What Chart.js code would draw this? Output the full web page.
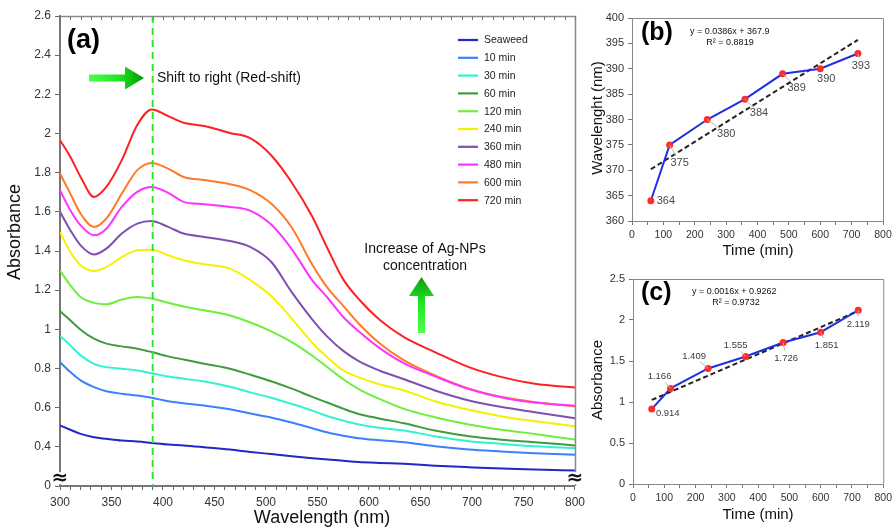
<!DOCTYPE html>
<html><head><meta charset="utf-8">
<script src="https://cdn.jsdelivr.net/npm/chart.js@4/dist/chart.umd.min.js"></script>
<style>
html,body{margin:0;padding:0;background:#fff;overflow:hidden}
#wrap{position:relative;width:896px;height:529px;background:#fff}
canvas{position:absolute}
</style></head><body>
<div id="wrap">
<canvas id="ca" width="590" height="529" style="left:0;top:0;width:590px;height:529px"></canvas>
<canvas id="cb" width="306" height="265" style="left:590px;top:0;width:306px;height:265px"></canvas>
<canvas id="cc" width="306" height="264" style="left:590px;top:265px;width:306px;height:264px"></canvas>
</div>
<script>
// ---------- DATA: panel (a) UV-Vis spectra ----------
const wavelengths = [300,310,320,333,345,360,375,389,405,420,440,465,485,505,525,545,560,575,590,610,634,664,697,729,761,800];
const seaweed = [0.509,0.487,0.466,0.449,0.441,0.432,0.427,0.420,0.412,0.407,0.398,0.386,0.374,0.363,0.352,0.342,0.335,0.329,0.323,0.318,0.313,0.304,0.296,0.289,0.284,0.279];
const min10  = [0.833,0.782,0.739,0.705,0.684,0.671,0.662,0.651,0.633,0.623,0.611,0.592,0.570,0.550,0.524,0.495,0.473,0.457,0.444,0.434,0.424,0.403,0.386,0.376,0.367,0.359];
const min30  = [0.966,0.918,0.867,0.824,0.807,0.799,0.790,0.776,0.759,0.748,0.734,0.707,0.678,0.651,0.619,0.585,0.556,0.534,0.514,0.498,0.483,0.454,0.429,0.415,0.403,0.393];
const min60  = [1.093,1.046,0.998,0.952,0.927,0.913,0.901,0.884,0.862,0.846,0.824,0.799,0.768,0.735,0.697,0.655,0.625,0.595,0.568,0.545,0.520,0.483,0.454,0.436,0.424,0.407];
const min120 = [1.300,1.225,1.165,1.135,1.128,1.152,1.165,1.157,1.136,1.117,1.097,1.071,1.035,0.990,0.935,0.865,0.805,0.745,0.695,0.645,0.594,0.551,0.514,0.487,0.466,0.437];
const min240 = [1.497,1.395,1.327,1.298,1.318,1.369,1.404,1.407,1.378,1.353,1.332,1.310,1.250,1.170,1.055,0.930,0.855,0.790,0.755,0.720,0.688,0.633,0.589,0.555,0.531,0.505];
const min360 = [1.600,1.506,1.429,1.382,1.412,1.489,1.540,1.553,1.523,1.489,1.472,1.451,1.420,1.345,1.190,1.050,0.960,0.890,0.838,0.790,0.745,0.688,0.637,0.603,0.577,0.546];
const min480 = [1.710,1.608,1.531,1.480,1.514,1.625,1.702,1.727,1.697,1.651,1.639,1.625,1.605,1.535,1.410,1.250,1.160,1.063,0.990,0.905,0.826,0.760,0.695,0.652,0.626,0.610];
const min600 = [1.796,1.693,1.591,1.523,1.566,1.693,1.813,1.850,1.821,1.778,1.762,1.741,1.710,1.642,1.520,1.330,1.210,1.120,1.030,0.930,0.841,0.765,0.697,0.654,0.628,0.606];
const min720 = [1.966,1.881,1.778,1.676,1.727,1.864,2.043,2.123,2.089,2.055,2.038,2.003,1.975,1.889,1.750,1.575,1.410,1.255,1.155,1.050,0.960,0.884,0.807,0.756,0.722,0.703];
const seriesNames  = ['Seaweed','10 min','30 min','60 min','120 min','240 min','360 min','480 min','600 min','720 min'];
const seriesValues = [seaweed,min10,min30,min60,min120,min240,min360,min480,min600,min720];
const markerWavelength = 390;

// ---------- DATA: panels (b) and (c) ----------
const times = [60,120,240,360,480,600,720];
const peakWavelength = [364,375,380,384,389,390,393];
const peakAbsorbance = [0.914,1.166,1.409,1.555,1.726,1.851,2.119];
const trendTimes = [60,720];
const trendWavelength = [370.2,395.7];
const trendAbsorbance = [1.025,2.110];

// ---------- STYLE ----------
const FONT = 'Arial, "Liberation Sans", sans-serif';
Chart.defaults.font.family = FONT;
Chart.defaults.color = '#333';
const seriesColors = ['#2626c8','#3a80ff','#33f2d2','#3f9b3f','#6cf03c','#f5f200','#7e50b0','#ff33ff','#ff7a2a','#ff2020'];
const labelOffsetsB = [[15,0],[10,18],[19,14],[14,14],[14,14],[6,10],[3,12]];
const labelOffsetsC = [[16,4],[-11,-12],[-14,-12],[-10,-11],[3,16],[6,13],[0,14]];

function breakMark(ctx, x, y) {
  ctx.save();
  ctx.fillStyle = '#fff';
  ctx.fillRect(x - 8, y - 6, 16, 12);
  ctx.fillStyle = '#111';
  ctx.font = 'bold 20px "DejaVu Sans", sans-serif';
  ctx.textAlign = 'center'; ctx.textBaseline = 'middle';
  ctx.fillText('\u2248', x, y + 1);
  ctx.restore();
}

function rightArrow(ctx, x0, x1, yc, shaftH, headH, headW) {
  const g = ctx.createLinearGradient(x0, 0, x1, 0);
  g.addColorStop(0, '#4dff4d'); g.addColorStop(0.55, '#1ee61e'); g.addColorStop(1, '#009600');
  ctx.fillStyle = g;
  ctx.beginPath();
  ctx.moveTo(x0, yc - shaftH / 2); ctx.lineTo(x1 - headW, yc - shaftH / 2);
  ctx.lineTo(x1 - headW, yc - headH / 2); ctx.lineTo(x1, yc);
  ctx.lineTo(x1 - headW, yc + headH / 2); ctx.lineTo(x1 - headW, yc + shaftH / 2);
  ctx.lineTo(x0, yc + shaftH / 2); ctx.closePath(); ctx.fill();
}
function upArrow(ctx, xc, yBottom, yTip, shaftW, headW, headH) {
  const g = ctx.createLinearGradient(0, yBottom, 0, yTip);
  g.addColorStop(0, '#4dff4d'); g.addColorStop(0.55, '#1ee61e'); g.addColorStop(1, '#109a10');
  ctx.fillStyle = g;
  ctx.beginPath();
  ctx.moveTo(xc - shaftW / 2, yBottom); ctx.lineTo(xc - shaftW / 2, yTip + headH);
  ctx.lineTo(xc - headW / 2, yTip + headH); ctx.lineTo(xc, yTip);
  ctx.lineTo(xc + headW / 2, yTip + headH); ctx.lineTo(xc + shaftW / 2, yTip + headH);
  ctx.lineTo(xc + shaftW / 2, yBottom); ctx.closePath(); ctx.fill();
}

// ---------- PANEL (a) ----------
const panelAPlugin = {
  id: 'panelA',
  afterDatasetsDraw(chart) {
    const ctx = chart.ctx, ca = chart.chartArea, xs = chart.scales.x;
    ctx.save();
    const xm = xs.getPixelForValue(markerWavelength);
    ctx.strokeStyle = '#2fe62f'; ctx.lineWidth = 2; ctx.setLineDash([7, 5]);
    ctx.beginPath(); ctx.moveTo(xm, ca.top); ctx.lineTo(xm, ca.bottom); ctx.stroke();
    ctx.setLineDash([]);
    ctx.restore();
  },
  afterDraw(chart) {
    const ctx = chart.ctx, ca = chart.chartArea, xs = chart.scales.x, ys = chart.scales.y;
    ctx.save();
    ctx.strokeStyle = '#8a8a8a'; ctx.lineWidth = 1.5;
    ctx.beginPath();
    ctx.moveTo(ca.left, ca.top + 0.5); ctx.lineTo(ca.right + 0.5, ca.top + 0.5); ctx.lineTo(ca.right + 0.5, ca.bottom);
    ctx.stroke();
    ctx.strokeStyle = '#777'; ctx.lineWidth = 1;
    ctx.beginPath();
    xs.ticks.forEach(t => { const px = Math.round(xs.getPixelForValue(t.value)) + 0.5; ctx.moveTo(px, ca.top); ctx.lineTo(px, ca.top + 4); });
    ctx.stroke();
    const yb = ys.getPixelForValue(0.24);
    breakMark(ctx, ca.left, yb);
    breakMark(ctx, ca.right, yb);
    ctx.font = '10.5px ' + FONT; ctx.textBaseline = 'middle'; ctx.textAlign = 'left';
    chart.data.datasets.forEach((ds, i) => {
      const y = 40 + i * 17.8;
      ctx.strokeStyle = ds.borderColor; ctx.lineWidth = 2.2;
      ctx.beginPath(); ctx.moveTo(458, y); ctx.lineTo(478, y); ctx.stroke();
      ctx.fillStyle = '#222'; ctx.fillText(ds.label, 484, y + 0.5);
    });
    rightArrow(ctx, 89, 144, 78, 7, 23, 19);
    upArrow(ctx, 421.5, 333, 277, 7, 25, 19);
    ctx.fillStyle = '#111'; ctx.font = '14px ' + FONT; ctx.textAlign = 'left';
    ctx.fillText('Shift to right (Red-shift)', 157, 78);
    ctx.textAlign = 'center';
    ctx.fillText('Increase of Ag-NPs', 425, 249);
    ctx.fillText('concentration', 425, 266);
    ctx.font = 'bold 27px ' + FONT; ctx.textAlign = 'left'; ctx.fillStyle = '#000';
    ctx.fillText('(a)', 67, 41);
    ctx.font = '18px ' + FONT; ctx.fillStyle = '#111'; ctx.textAlign = 'center';
    ctx.fillText('Wavelength (nm)', 322, 518);
    ctx.save(); ctx.translate(15, 232); ctx.rotate(-Math.PI / 2); ctx.fillText('Absorbance', 0, 0); ctx.restore();
    ctx.restore();
  }
};

new Chart(document.getElementById('ca'), {
  type: 'line',
  data: {
    datasets: seriesNames.map((name, i) => ({
      label: name,
      data: wavelengths.map((w, j) => ({ x: w, y: seriesValues[i][j] })),
      borderColor: seriesColors[i], borderWidth: 2, pointRadius: 0,
      cubicInterpolationMode: 'monotone', fill: false
    }))
  },
  options: {
    responsive: false, animation: false, devicePixelRatio: 1,
    layout: { padding: { left: 0, right: 15, top: 16, bottom: 0 } },
    plugins: { legend: { display: false }, tooltip: { enabled: false } },
    scales: {
      x: {
        type: 'linear', min: 300, max: 800,
        ticks: { stepSize: 10, autoSkip: false, maxRotation: 0, padding: 5, color: '#333', font: { size: 12 },
          callback: v => (Math.round(v) % 50 === 0 ? String(Math.round(v)) : '') },
        grid: { drawOnChartArea: false, drawTicks: true, tickLength: 4, color: '#666' },
        border: { color: '#777', width: 2 },
        afterFit: s => { s.height = 43; }
      },
      y: {
        type: 'linear', min: 0.2, max: 2.6,
        ticks: { stepSize: 0.2, autoSkip: false, padding: 4, color: '#333', font: { size: 12 },
          callback: v => { const r = Math.round(v * 10) / 10; return r < 0.3 ? '0' : String(r); } },
        grid: { drawOnChartArea: false, drawTicks: true, tickLength: 5, color: '#666' },
        border: { color: '#777', width: 2 },
        afterFit: s => { s.width = 60; }
      }
    }
  },
  plugins: [panelAPlugin]
});

// ---------- PANELS (b) and (c) ----------
function sidePlugin(cfg) {
  return {
    id: 'side' + cfg.tag,
    afterDraw(chart) {
      const ctx = chart.ctx, ca = chart.chartArea;
      ctx.save();
      ctx.strokeStyle = '#8a8a8a'; ctx.lineWidth = 1;
      ctx.beginPath();
      ctx.moveTo(ca.left, ca.top + 0.5); ctx.lineTo(ca.right + 0.5, ca.top + 0.5); ctx.lineTo(ca.right + 0.5, ca.bottom);
      ctx.stroke();
      const meta = chart.getDatasetMeta(0);
      const vals = chart.data.datasets[0].data;
      ctx.font = cfg.labelFont; ctx.textAlign = 'center'; ctx.textBaseline = 'middle';
      meta.data.forEach((pt, i) => {
        const [dx, dy] = cfg.offsets[i];
        const lx = pt.x + dx, ly = pt.y + dy;
        const d = Math.hypot(dx, dy);
        if (Math.abs(dy) > 6 && d > 12) {
          const k = (d - 8) / d;
          ctx.strokeStyle = '#b8b8b8'; ctx.lineWidth = 1;
          ctx.beginPath(); ctx.moveTo(pt.x, pt.y); ctx.lineTo(pt.x + dx * k, pt.y + dy * k); ctx.stroke();
        }
        ctx.fillStyle = cfg.labelColor;
        ctx.fillText(String(vals[i].y), lx, ly);
      });
      ctx.fillStyle = '#111'; ctx.font = '9px ' + FONT; ctx.textAlign = 'left';
      ctx.fillText(cfg.eq, cfg.eqX, cfg.eqY);
      ctx.textAlign = 'center';
      ctx.fillText(cfg.r2, cfg.r2X, cfg.eqY + 11);
      ctx.font = 'bold 25px ' + FONT; ctx.textAlign = 'left'; ctx.fillStyle = '#000';
      ctx.fillText(cfg.tag, 51, cfg.tagY);
      ctx.font = '15px ' + FONT; ctx.fillStyle = '#111'; ctx.textAlign = 'center';
      ctx.fillText('Time (min)', 168, cfg.xTitleY);
      ctx.save(); ctx.translate(8, cfg.yTitleY); ctx.rotate(-Math.PI / 2); ctx.fillText(cfg.yTitle, 0, 0); ctx.restore();
      ctx.restore();
    }
  };
}

function sideChart(el, values, trend, yMin, yMax, yStep, yWidth, xHeight, padTop, padRight, plugin) {
  return new Chart(el, {
    type: 'line',
    data: {
      datasets: [
        { data: times.map((t, i) => ({ x: t, y: values[i] })), borderColor: '#1f2fe6', borderWidth: 2,
          pointRadius: 3.5, pointBackgroundColor: '#ff2a2a', pointBorderColor: '#ff2a2a', pointBorderWidth: 0, tension: 0 },
        { data: trendTimes.map((t, i) => ({ x: t, y: trend[i] })), borderColor: '#222', borderWidth: 2,
          borderDash: [5, 3], pointRadius: 0, tension: 0 }
      ]
    },
    options: {
      responsive: false, animation: false, devicePixelRatio: 1,
      layout: { padding: { left: 0, right: padRight, top: padTop, bottom: 0 } },
      plugins: { legend: { display: false }, tooltip: { enabled: false } },
      scales: {
        x: {
          type: 'linear', min: 0, max: 800,
          ticks: { stepSize: 50, autoSkip: false, maxRotation: 0, padding: 4, color: '#333', font: { size: 10.5 },
            callback: v => (Math.round(v) % 100 === 0 ? String(Math.round(v)) : '') },
          grid: { drawOnChartArea: false, tickLength: 4, color: '#777' },
          border: { color: '#888', width: 1 },
          afterFit: s => { s.height = xHeight; }
        },
        y: {
          type: 'linear', min: yMin, max: yMax,
          ticks: { stepSize: yStep, autoSkip: false, padding: 4, color: '#333', font: { size: 11 },
            callback: v => String(Math.round(v * 10) / 10) },
          grid: { drawOnChartArea: false, tickLength: 4, color: '#777' },
          border: { color: '#888', width: 1 },
          afterFit: s => { s.width = yWidth; }
        }
      }
    },
    plugins: [plugin]
  });
}

sideChart(document.getElementById('cb'), peakWavelength, trendWavelength, 360, 400, 5, 42, 44, 18, 13,
  sidePlugin({ tag: '(b)', tagY: 33, offsets: labelOffsetsB, labelFont: '11px ' + FONT, labelColor: '#4a4a4a',
    eq: 'y = 0.0386x + 367.9', r2: 'R\u00b2 = 0.8819', eqX: 100, eqY: 32, r2X: 140,
    xTitleY: 251, yTitle: 'Wavelenght (nm)', yTitleY: 118 }));

sideChart(document.getElementById('cc'), peakAbsorbance, trendAbsorbance, 0, 2.5, 0.5, 43, 45, 14, 11,
  sidePlugin({ tag: '(c)', tagY: 28, offsets: labelOffsetsC, labelFont: '9.5px ' + FONT, labelColor: '#3a3a4a',
    eq: 'y = 0.0016x + 0.9262', r2: 'R\u00b2 = 0.9732', eqX: 102, eqY: 27, r2X: 146,
    xTitleY: 250, yTitle: 'Absorbance', yTitleY: 115 }));
</script>
</body></html>
